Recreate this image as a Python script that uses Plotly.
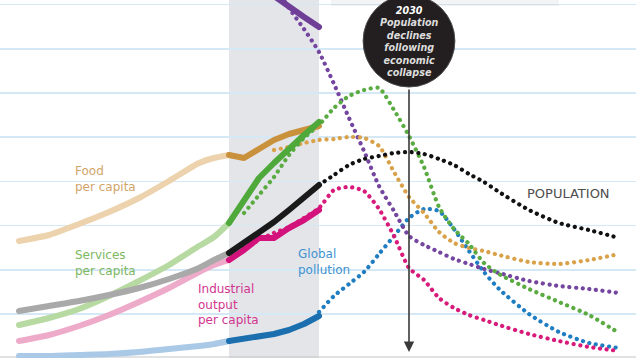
import plotly.graph_objects as go

# ---------------- data (y = index level) ----------------
hist_years = [1900, 1910, 1920, 1930, 1940, 1950, 1960, 1965, 1970, 1975, 1980, 1985, 1990, 1995, 2000]
food_hist = [117, 123, 134, 146, 160, 177, 195, 200, 203, 200, 209, 218, 224, 228, 232]
services_hist = [33, 40, 49, 62, 77, 93, 112, 121, 135, 158, 180, 195, 210, 223, 236]
population_hist = [47, 52, 57, 63, 70, 79, 90, 98, 105, 115, 126, 136, 148, 160, 173]
industrial_hist = [17, 23, 32, 43, 56, 70, 86, 93, 98, 108, 120, 120, 130, 138, 148]
pollution_hist = [2, 2, 3, 4, 6, 9, 12, 14, 17, 19, 21, 24, 28, 34, 42]
resources_hist_years = [1985, 1990, 1995, 2000]
resources_hist = [362, 351, 341, 331]

proj_years = [2000, 2005, 2010, 2015, 2020, 2025, 2030, 2035, 2040, 2045, 2050, 2055, 2060, 2070, 2080, 2090, 2100]
food_proj_years = [1985, 1990, 1995] + proj_years
food_proj = [208, 211, 215, 218, 219, 221, 220, 212, 186, 161, 145, 126, 115, 110, 107, 103, 96, 94, 98, 104]
services_proj_years = [1975, 1980, 1985, 1990, 1995] + proj_years
services_proj = [145, 163, 181, 203, 220, 233, 250, 262, 268, 270, 248, 222, 191, 151, 129, 114, 95, 84, 69, 56, 43, 25]
population_proj_years = proj_years
population_proj = [173, 183, 193, 199, 202, 205, 206, 204, 199, 193, 184, 176, 166, 148, 135, 128, 120]
industrial_proj_years = [1975, 1980, 1985, 1990, 1995] + proj_years
industrial_proj = [110, 118, 125, 131, 140, 150, 168, 171, 167, 149, 122, 90, 78, 60, 50, 43, 38, 33, 24, 17, 11, 7]
pollution_proj_years = proj_years
pollution_proj = [46, 62, 74, 86, 104, 122, 140, 149, 147, 129, 107, 86, 69, 44, 26, 15, 10]
resources_proj_years = [1985, 1990, 1995] + proj_years
resources_proj = [373, 350, 329, 306, 274, 240, 207, 172, 147, 122, 113, 106, 99, 94, 89, 85, 77, 72, 69, 65]

band_start, band_end = 1970, 2000
event_year = 2030
circle_title = "2030"
circle_lines = ["Population", "declines", "following", "economic", "collapse"]

# ---------------- styles ----------------
DOT = "0.1px,6.6px"
series = [
    # name, hist x, hist y, light colour, dark colour, proj x, proj y, dot colour
    ("pollution", hist_years, pollution_hist, "#a9c9e6", "#1b6fae", pollution_proj_years, pollution_proj, "#1f7dc1"),
    ("industrial", hist_years, industrial_hist, "#eeaac9", "#d4127c", industrial_proj_years, industrial_proj, "#d81b7a"),
    ("resources", None, None, None, "#6f3f98", resources_proj_years, resources_proj, "#7446a0"),
    ("food", hist_years, food_hist, "#ecd2ad", "#c9913b", food_proj_years, food_proj, "#d9a24a"),
    ("services", hist_years, services_hist, "#b7d9a2", "#4ea83a", services_proj_years, services_proj, "#5aab41"),
    ("population", hist_years, population_hist, "#a9a9a9", "#1a1a1a", population_proj_years, population_proj, "#111111"),
]

fig = go.Figure()

# projections (dotted)
for name, hx, hy, light, dark, px_, py_, dotc in series:
    fig.add_trace(go.Scatter(x=px_, y=py_, mode="lines",
                             line=dict(color=dotc, width=4.2, dash=DOT, shape="spline", smoothing=0.6),
                             hoverinfo="skip", showlegend=False))

# historical (solid)
for name, hx, hy, light, dark, px_, py_, dotc in series:
    if name == "resources":
        fig.add_trace(go.Scatter(x=resources_hist_years, y=resources_hist, mode="lines",
                                 line=dict(color=dark, width=6), hoverinfo="skip", showlegend=False))
        continue
    lx = [x for x in hx if x <= band_start]
    ly = [y for x, y in zip(hx, hy) if x <= band_start]
    dx = [x for x in hx if x >= band_start]
    dy = [y for x, y in zip(hx, hy) if x >= band_start]
    fig.add_trace(go.Scatter(x=lx, y=ly, mode="lines",
                             line=dict(color=light, width=6, shape="spline", smoothing=0.6),
                             hoverinfo="skip", showlegend=False))
    fig.add_trace(go.Scatter(x=dx, y=dy, mode="lines", line=dict(color=dark, width=6),
                             hoverinfo="skip", showlegend=False))

shapes = [
    dict(type="rect", xref="x", yref="paper", x0=band_start, x1=band_end, y0=0, y1=1,
         fillcolor="#e4e5e9", line=dict(width=0), layer="between"),
    dict(type="line", xref="paper", yref="y", x0=0, x1=1, y0=1, y1=1,
         line=dict(color="#c4c4c4", width=1), layer="below"),
    dict(type="rect", xref="x", yref="y", x0=2004, x1=2080, y0=352, y1=358,
         fillcolor="rgba(170,170,170,0.13)", line=dict(width=0), layer="above"),
    dict(type="circle", xref="x", yref="y", x0=event_year - 15.3, x1=event_year + 15.3, y0=271, y1=363,
         fillcolor="#231f20", line=dict(color="#4a4a4a", width=1), layer="above"),
]

annotations = [
    dict(x=event_year, y=6, ax=0, ay=-264, xref="x", yref="y", text="", showarrow=True,
         arrowhead=2, arrowsize=1.3, arrowwidth=1.6, arrowcolor="#3a3a3a"),
]

label_font = "DejaVu Sans"
def label(text, x, y, color, size=12):
    annotations.append(dict(x=x, y=y, xref="x", yref="y", text=text, showarrow=False,
                            xanchor="left", yanchor="middle", align="left",
                            font=dict(family=label_font, size=size, color=color)))

label("Food<br>per capita", 1918.0, 179.5, "#d2a468")
label("Services<br>per capita", 1918.0, 95.5, "#7db862")
label("Industrial<br>output<br>per capita", 1959.0, 54, "#d2358f")
label("Global<br>pollution", 1992.3, 96, "#3f93d1")
label("POPULATION", 2068.7, 165, "#4d4d4d", 13)

circle_text = ("<b><i><span style='color:#ffffff'>%s</span><br>%s</i></b>"
               % (circle_title, "<br>".join(circle_lines)))
annotations.append(dict(x=event_year, y=317, xref="x", yref="y", text=circle_text, showarrow=False,
                        xanchor="center", yanchor="middle", align="center",
                        font=dict(family="DejaVu Sans", size=9.6, color="#dcdcdc")))

fig.update_layout(
    width=636, height=358, autosize=False,
    margin=dict(l=0, r=0, t=0, b=0),
    paper_bgcolor="#ffffff", plot_bgcolor="#ffffff",
    xaxis=dict(range=[1970 - 229 / 3, 1970 + (636 - 229) / 3], visible=False, fixedrange=True),
    yaxis=dict(range=[0, 358], showgrid=True, gridcolor="#d4e8f6", gridwidth=1.5,
               tick0=44, dtick=44.2, showticklabels=False, zeroline=False, showline=False, fixedrange=True),
    shapes=shapes, annotations=annotations, showlegend=False,
)

post = ("var s=document.createElement('style');"
        "s.innerHTML='html,body{margin:0;padding:0;overflow:hidden;}"
        ".scatterlayer path.js-line{stroke-linecap:round;stroke-linejoin:round;}';"
        "document.head.appendChild(s);")
fig.write_html("out.html", post_script=post, config={"displayModeBar": False, "staticPlot": True})
